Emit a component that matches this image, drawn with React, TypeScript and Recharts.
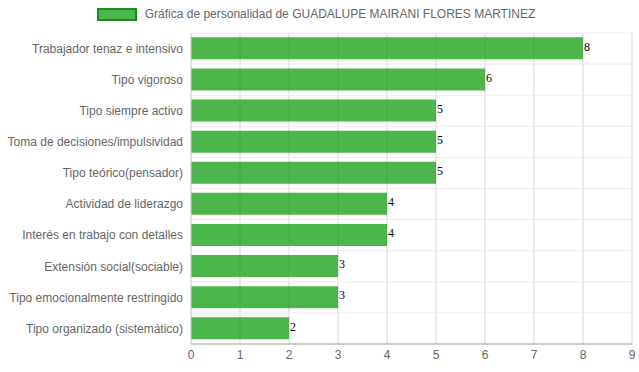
import React from 'react'
import { BarChart, Bar, XAxis, YAxis, CartesianGrid, Legend, LabelList } from 'recharts'

const categories = [
  'Trabajador tenaz e intensivo',
  'Tipo vigoroso',
  'Tipo siempre activo',
  'Toma de decisiones/impulsividad',
  'Tipo teórico(pensador)',
  'Actividad de liderazgo',
  'Interés en trabajo con detalles',
  'Extensión social(sociable)',
  'Tipo emocionalmente restringido',
  'Tipo organizado (sistemático)',
]
const values = [8, 6, 5, 5, 5, 4, 4, 3, 3, 2]
const xTicks = [0, 1, 2, 3, 4, 5, 6, 7, 8, 9]
const seriesName = 'Gráfica de personalidad de GUADALUPE MAIRANI FLORES MARTINEZ'

const data = categories.map((c, i) => ({ name: c, value: values[i] }))

const font = '"Liberation Sans", Arial, Helvetica, sans-serif'

function LegendBox() {
  return (
    <div style={{ display: 'flex', alignItems: 'center', justifyContent: 'center', fontFamily: font, fontSize: 12, color: '#666', height: 16 }}>
      <span style={{ display: 'inline-block', width: 36, height: 9, background: 'rgba(0,150,0,0.7)', border: '2px solid #1f8a1f', marginRight: 8 }}></span>
      {seriesName}
    </div>
  )
}

// single-line category label (no wrapping)
function CategoryTick(props: any) {
  const { x, y, payload } = props
  return (
    <text x={x} y={y} dy="0.355em" textAnchor="end" fill="#666" fontSize={12} fontFamily={font}>
      {payload.value}
    </text>
  )
}

export default function App() {
  return (
    <div style={{ position: 'absolute', left: 0, top: 0, background: '#fff' }}>
      <BarChart
        width={639}
        height={372}
        data={data}
        layout="vertical"
        margin={{ top: 17, right: 7, left: 0, bottom: 0 }}
        barCategoryGap="14%"
      >
        <CartesianGrid
          stroke="#d6d6d6"
          horizontal={false}
        />
        <CartesianGrid
          stroke="#ebebeb"
          vertical={false}
          horizontalCoordinatesGenerator={({ offset }: any) =>
            categories.map((_, i) => offset.top + (offset.height * i) / categories.length)
          }
        />
        <Legend verticalAlign="top" height={16} content={() => <LegendBox />} wrapperStyle={{ top: 6 }} />
        <XAxis
          type="number"
          domain={[0, 9]}
          ticks={xTicks}
          height={28}
          tickLine={false}
          tickSize={4}
          axisLine={{ stroke: '#999' }}
          tick={{ fill: '#666', fontSize: 12, fontFamily: font }}
        />
        <YAxis
          type="category"
          dataKey="name"
          width={191}
          tickLine={false}
          axisLine={{ stroke: '#d6d6d6' }}
          tick={<CategoryTick />}
        />
        <Bar dataKey="value" name={seriesName} fill="rgba(0,150,0,0.7)" isAnimationActive={false}>
          <LabelList
            dataKey="value"
            position="right"
            offset={1}
            fill="#000"
            fontSize={12}
            fontFamily='"Liberation Serif", "Times New Roman", serif'
            dy={-2}
          />
        </Bar>
      </BarChart>
    </div>
  )
}
